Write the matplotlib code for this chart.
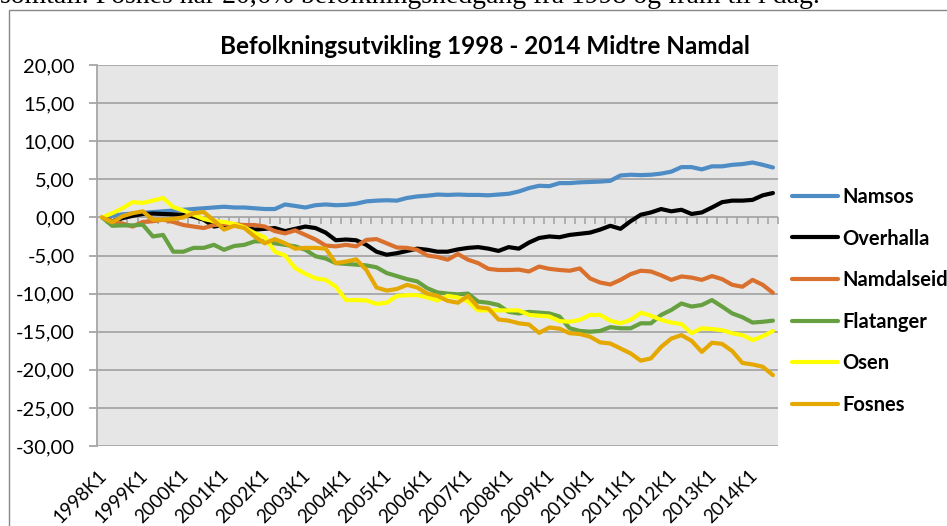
import numpy as np
import matplotlib.pyplot as plt
import matplotlib.transforms as mtransforms
from matplotlib.patches import Rectangle

plt.rcParams['font.family'] = ['Lato', 'DejaVu Sans']

# quarters 1998K1 .. 2014K3, change in population (%) since 1998K1
quarters = [f"{y}K{q}" for y in range(1998, 2015) for q in range(1, 5)][:67]
tick_labels = [f"{y}K1" for y in range(1998, 2015)]

namsos = [0, 0.2, 0.4, 0.5, 0.6, 0.7, 0.8, 0.9, 1.0, 1.1, 1.2, 1.3, 1.4, 1.3, 1.3, 1.2,
          1.1, 1.1, 1.7, 1.5, 1.3, 1.6, 1.7,
          1.6, 1.65, 1.8, 2.1, 2.2, 2.25, 2.2, 2.55, 2.75, 2.85, 3.0, 2.95, 3.0, 2.95,
          2.95, 2.9, 3.0, 3.1, 3.4, 3.85, 4.15, 4.1, 4.5,
          4.5, 4.6, 4.65, 4.7, 4.8, 5.5, 5.6, 5.55, 5.6, 5.75, 6.0, 6.6, 6.6, 6.3, 6.7,
          6.7, 6.9, 7.0, 7.2, 6.9, 6.55]
overhalla = [0, -0.5, -0.1, 0.2, 0.45, 0.5, 0.45, 0.4, 0.35, 0.1, -0.3, -1.2, -1.0, -1.0,
             -1.3, -1.6, -1.5, -1.4, -1.8, -1.5, -1.2, -1.4, -2.0,
             -3.0, -2.9, -3.0, -3.6, -4.5, -4.9, -4.7, -4.4, -4.1, -4.25, -4.5, -4.5, -4.2,
             -4.0, -3.9, -4.1, -4.4, -3.9, -4.1, -3.3, -2.7, -2.5, -2.6,
             -2.3, -2.15, -2.0, -1.6, -1.1, -1.5, -0.5, 0.35, 0.65, 1.1, 0.8, 1.0, 0.45,
             0.65, 1.3, 2.0, 2.2, 2.2, 2.3, 2.9, 3.2]
namdalseid = [0, -0.5, -0.8, -1.2, -0.6, -0.5, -0.3, -0.6, -1.0, -1.2, -1.4, -1.0, -0.9,
              -0.9, -1.0, -1.0, -1.2, -1.8, -2.1, -1.7, -2.3, -2.9, -3.7,
              -3.8, -3.6, -3.8, -2.95, -2.85, -3.4, -3.95, -4.0, -4.25, -5.0, -5.2, -5.55,
              -4.8, -5.55, -6.0, -6.75, -6.9, -6.9, -6.85, -7.1, -6.45, -6.75, -6.9,
              -7.0, -6.7, -8.0, -8.55, -8.8, -8.2, -7.45, -7.0, -7.1, -7.6, -8.2, -7.75,
              -7.9, -8.2, -7.7, -8.1, -8.85, -9.1, -8.2, -8.85, -9.9]
flatanger = [0, -1.1, -1.05, -1.05, -0.95, -2.5, -2.3, -4.5, -4.5, -4.0, -4.0, -3.6, -4.25,
             -3.75, -3.6, -3.15, -3.15, -3.4, -3.6, -3.8, -4.25, -5.1, -5.4,
             -6.0, -6.1, -6.2, -6.3, -6.55, -7.3, -7.7, -8.1, -8.4, -9.3, -9.85, -10.0,
             -10.1, -10.0, -11.05, -11.2, -11.5, -12.4, -12.6, -12.4, -12.5, -12.6, -13.0,
             -14.55, -14.9, -15.0, -14.9, -14.4, -14.55, -14.55, -13.9, -13.9, -12.8,
             -12.15, -11.3, -11.7, -11.5, -10.85, -11.7, -12.6, -13.1, -13.8, -13.7, -13.55]
osen = [0, 0.55, 1.2, 2.0, 1.9, 2.2, 2.55, 1.35, 0.9, 0.35, -0.2, -0.5, -0.6, -0.85, -1.3,
        -2.05, -2.6, -4.5, -5.0, -6.65, -7.4, -8.0, -8.2,
        -9.1, -10.85, -10.85, -10.9, -11.35, -11.2, -10.3, -10.2, -10.2, -10.5, -10.9,
        -10.3, -10.5, -11.05, -12.2, -12.2, -12.2, -12.2, -12.2, -12.8, -12.9, -13.0, -13.6,
        -13.7, -13.45, -12.8, -12.8, -13.55, -13.9, -13.45, -12.5, -12.9, -13.45, -13.8,
        -14.0, -15.2, -14.55, -14.65, -14.8, -15.2, -15.45, -16.1, -15.6, -14.9]
fosnes = [0, -0.65, 0.15, 0.55, 0.8, -0.3, -0.3, -0.2, 0, 0.55, 0.7, -0.4, -1.6, -1.1,
          -1.4, -2.5, -3.4, -2.85, -3.4, -4.1, -4.0, -4.0, -4.1,
          -6.0, -5.8, -5.5, -6.9, -9.2, -9.6, -9.4, -8.85, -9.2, -10.0, -10.3, -10.95,
          -11.2, -10.3, -11.8, -11.95, -13.4, -13.55, -13.9, -14.05, -15.15, -14.45, -14.6,
          -15.2, -15.3, -15.65, -16.4, -16.55, -17.2, -17.85, -18.8, -18.5, -17.0, -15.9,
          -15.45, -16.2, -17.65, -16.45, -16.6, -17.55, -19.1, -19.3, -19.6, -20.7]

series = [('Namsos', namsos, '#4E8CC5'),
          ('Overhalla', overhalla, '#000000'),
          ('Namdalseid', namdalseid, '#D9702D'),
          ('Flatanger', flatanger, '#66A040'),
          ('Osen', osen, '#FFFF00'),
          ('Fosnes', fosnes, '#E5A800')]

W, H = 947, 526
fig = plt.figure(figsize=(W / 100, H / 100), dpi=100)
ax = fig.add_axes([97 / W, 1 - 446 / H, (778 - 97) / W, (446 - 65) / H])

grid_col = '#A6A6A6'
ax.set_facecolor('#E6E6E6')
x = np.arange(len(quarters))
for name, vals, col in series:
    ax.plot(x, vals, color=col, lw=3, label=name,
            solid_joinstyle='round', solid_capstyle='round')

ax.set_xlim(-0.5, len(quarters) - 0.5)
ax.set_ylim(-30, 20)
ax.set_yticks(np.arange(-30, 21, 5))
ax.set_yticklabels([f"{v:.2f}".replace('.', ',') for v in np.arange(-30, 21, 5)])
ax.yaxis.grid(True, color=grid_col, lw=1.3)
ax.set_axisbelow(True)
ax.tick_params(axis='y', length=6, width=1.3, color=grid_col, pad=10, labelsize=14.5)

ax.set_xticks(x[::4])
ax.set_xticklabels(tick_labels, rotation=45, ha='right', rotation_mode='anchor')
ax.tick_params(axis='x', length=0, pad=12, labelsize=13.5)
# nudge the slanted labels a bit left/down like the Excel original
shift = mtransforms.ScaledTranslation(-4 / 100, -4 / 100, fig.dpi_scale_trans)
for lab in ax.get_xticklabels():
    lab.set_transform(lab.get_transform() + shift)

for s in ['top', 'right', 'bottom']:
    ax.spines[s].set_visible(False)
ax.spines['left'].set_color(grid_col)
ax.spines['left'].set_linewidth(1.3)

# category axis crossing at zero with tick marks between categories
zero_axis = ax.secondary_xaxis(0.6)
zero_axis.set_xticks(np.arange(-0.5, len(quarters), 1))
zero_axis.tick_params(axis='x', direction='out', length=5, width=1.2, color=grid_col,
                      labelbottom=False, labeltop=False, bottom=True, top=False)
zero_axis.spines['bottom'].set_color(grid_col)
zero_axis.spines['bottom'].set_linewidth(1.3)
zero_axis.spines['top'].set_visible(False)

leg = ax.legend(loc='upper left', bbox_to_anchor=(792 / W, 1 - 187 / H),
                bbox_transform=fig.transFigure, frameon=False, fontsize=14.5,
                handlelength=2.3, handletextpad=0.2, labelspacing=1.07,
                borderaxespad=0, borderpad=0)
for t in leg.get_texts():
    t.set_fontweight('bold')

fig.text(485 / W, 1 - 47 / H, 'Befolkningsutvikling 1998 - 2014 Midtre Namdal',
         ha='center', va='center', fontsize=17.5, fontweight='bold')

# chart frame and the cut-off line of text above it
fig.patches.append(Rectangle((8.5 / W, -0.1), 1.0, 1 - 10 / H + 0.1,
                             transform=fig.transFigure, fill=False,
                             edgecolor='#878787', lw=1))
fig.text(0, 1 - 3 / H,
         'somtall. Fosnes har 20,6% befolkningsnedgang fra 1998 og fram til i dag.',
         ha='left', va='baseline', fontsize=20, family='Liberation Serif')

fig.savefig('out.png', dpi=100)
